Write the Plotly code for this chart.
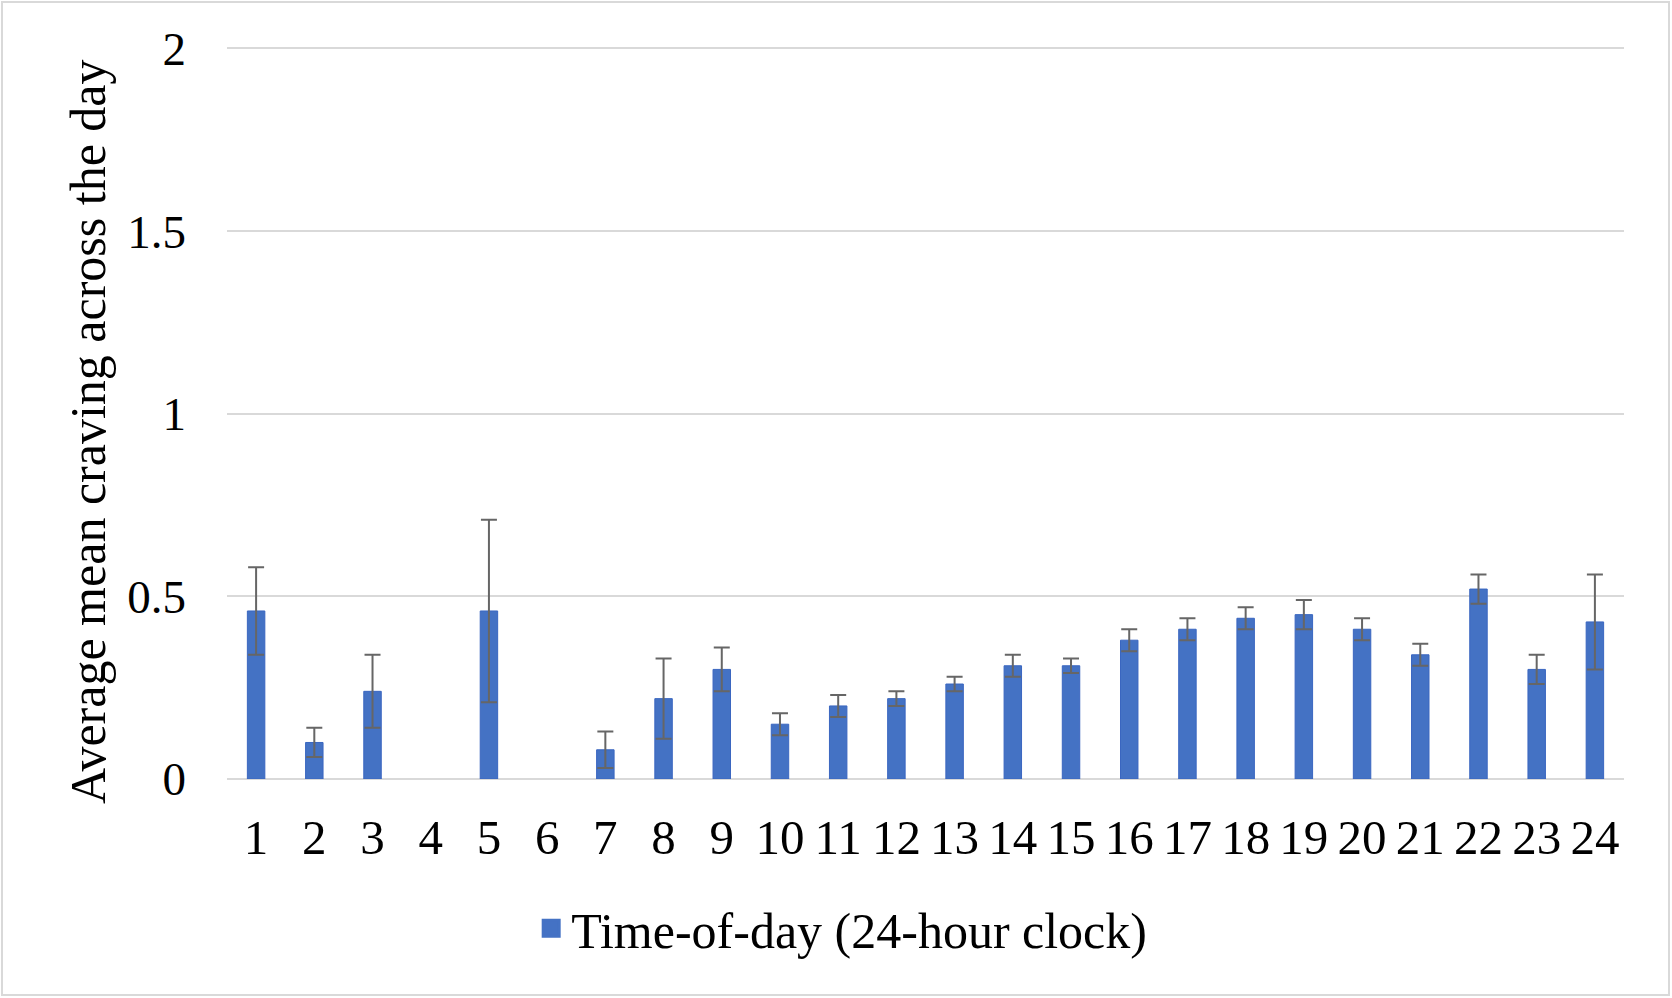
import plotly.graph_objects as go

hours = [str(h) for h in range(1, 25)]
means = [0.46, 0.10, 0.24, None, 0.46, None, 0.08, 0.22, 0.30, 0.15, 0.20, 0.22,
         0.26, 0.31, 0.31, 0.38, 0.41, 0.44, 0.45, 0.41, 0.34, 0.52, 0.30, 0.43]
errors = [0.12, 0.04, 0.10, None, 0.25, None, 0.05, 0.11, 0.06, 0.03, 0.03, 0.02,
          0.02, 0.03, 0.02, 0.03, 0.03, 0.03, 0.04, 0.03, 0.03, 0.04, 0.04, 0.13]
y_ticks = [0, 0.5, 1, 1.5, 2]
y_tick_labels = ["0", "0.5", "1", "1.5", "2"]
series_name = "Time-of-day (24-hour clock)"
y_title = "Average mean craving across the day"

BLUE = "#4472C4"
FONT = "Liberation Serif"

W, H = 1672, 998
ml, mr, mt, mb = 227, 48, 47, 219
pw = W - ml - mr
ph = H - mt - mb

fig = go.Figure()
fig.add_trace(go.Bar(
    x=hours, y=means,
    marker=dict(color=BLUE, line=dict(color="#3a66c0", width=1)),
    error_y=dict(type="data", array=errors, visible=True,
                 color="#666666", thickness=2, width=8),
    showlegend=False,
))
# legend entry
fig.add_trace(go.Scatter(
    x=[None], y=[None], mode="markers", name=series_name,
    marker=dict(symbol="square", size=16, color=BLUE,
                line=dict(color=BLUE, width=3)),
))

# outer frame
fig.add_shape(type="rect", xref="paper", yref="paper",
              x0=(2 - ml) / pw, x1=(1669 - ml) / pw,
              y0=1 - (995 - mt) / ph, y1=1 - (2 - mt) / ph,
              line=dict(color="#d9d9d9", width=2), layer="below")

# y-axis title as annotation (positioned like the reference)
fig.add_annotation(text=y_title, xref="paper", yref="paper",
                   x=(88 - ml) / pw, y=1 - (432 - mt) / ph,
                   xanchor="center", yanchor="middle", textangle=-90,
                   showarrow=False, font=dict(size=50, family=FONT, color="black"))

fig.update_layout(
    width=W, height=H,
    margin=dict(l=ml, r=mr, t=mt, b=mb),
    paper_bgcolor="white", plot_bgcolor="white",
    font=dict(family=FONT, color="black", size=48),
    bargap=0.7,
    showlegend=True,
    legend=dict(orientation="h", x=0.44, xanchor="center", y=-0.204,
                yanchor="middle", font=dict(size=50, family=FONT),
                itemwidth=30),
    xaxis=dict(type="category", showgrid=False, showline=False,
               tickmode="array", tickvals=hours, ticktext=hours, tickangle=0,
               ticks="", tickfont=dict(size=49), ticklabelstandoff=25,
               range=[-0.5, 23.5]),
    yaxis=dict(range=[0, 2.004], tickvals=y_ticks, ticktext=y_tick_labels,
               showgrid=True, gridcolor="#d9d9d9", gridwidth=2,
               zeroline=True, zerolinecolor="#d9d9d9", zerolinewidth=2,
               showline=False, ticks="", tickfont=dict(size=47),
               ticklabelstandoff=40),
)

fig.write_html("out.html", config={"displayModeBar": False},
               post_script="document.body.style.margin='0';")
